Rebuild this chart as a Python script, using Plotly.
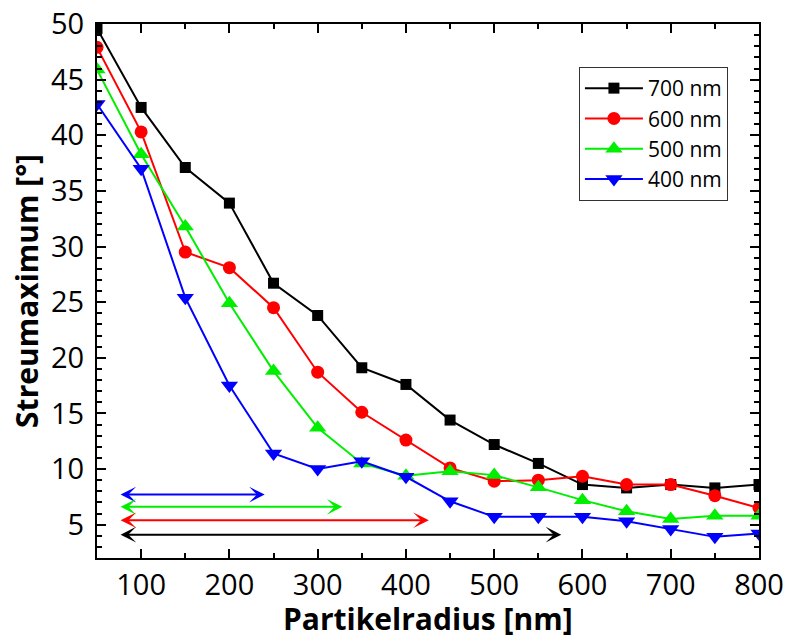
import plotly.graph_objects as go

radius = [50, 100, 150, 200, 250, 300, 350, 400, 450, 500, 550, 600, 650, 700, 750, 800]

s700 = [49.6, 42.5, 37.1, 33.9, 26.7, 23.8, 19.1, 17.6, 14.4, 12.2, 10.5, 8.6, 8.3, 8.6, 8.3, 8.6]
s600 = [47.9, 40.3, 29.5, 28.1, 24.5, 18.7, 15.1, 12.6, 10.1, 8.9, 9.0, 9.35, 8.6, 8.6, 7.6, 6.5]
s500 = [45.9, 38.3, 31.8, 24.9, 18.8, 13.7, 10.5, 9.4, 9.8, 9.45, 8.35, 7.2, 6.2, 5.5, 5.8, 5.8]
s400 = [42.8, 37.0, 25.4, 17.5, 11.4, 10.0, 10.7, 9.3, 7.1, 5.7, 5.7, 5.7, 5.3, 4.6, 3.9, 4.2]

series_names = ["700 nm", "600 nm", "500 nm", "400 nm"]
series_values = [s700, s600, s500, s400]
series_colors = ["#000000", "#ff0000", "#00ee00", "#0000ff"]
series_symbols = ["square", "circle", "triangle-up", "triangle-down"]
series_sizes = [11, 13, 15, 15]

# range arrows (double-headed) per wavelength: y level, start x, end x
arrow_names = ["400 nm", "500 nm", "600 nm", "700 nm"]
arrow_y = [7.7, 6.6, 5.4, 4.1]
arrow_x0 = [75, 75, 75, 75]
arrow_x1 = [240, 328, 426, 576]
arrow_colors = ["#0000ff", "#00ee00", "#ff0000", "#000000"]

x_title = "Partikelradius [nm]"
y_title = "Streumaximum [°]"

FONT = "Open Sans"

fig = go.Figure()
for name, vals, col, sym, sz in zip(series_names, series_values, series_colors,
                                     series_symbols, series_sizes):
    fig.add_trace(go.Scatter(
        x=radius, y=vals, name=name, mode="lines+markers",
        line=dict(color=col, width=2),
        marker=dict(symbol=sym, size=sz, color=col, line=dict(width=0)),
        cliponaxis=True,
    ))

for yv, x0, x1, col in zip(arrow_y, arrow_x0, arrow_x1, arrow_colors):
    fig.add_annotation(
        x=x1, y=yv, ax=x0, ay=yv, xref="x", yref="y", axref="x", ayref="y",
        showarrow=True, arrowhead=3, startarrowhead=3, arrowside="end+start",
        arrowwidth=2, arrowsize=1.3, startarrowsize=1.3, arrowcolor=col, text="",
    )

# x-axis title placed as a paper annotation so it can sit as low as in the reference
fig.add_annotation(
    text="<b>" + x_title + "</b>", xref="paper", yref="paper", x=0.5, y=0,
    xanchor="center", yanchor="middle", yshift=-60, showarrow=False,
    font=dict(family=FONT, size=30, color="black"),
)

axis_common = dict(
    showline=True, linecolor="black", linewidth=2, mirror="ticks",
    ticks="inside", ticklen=9, tickwidth=2, tickcolor="black",
    showgrid=False, zeroline=False, automargin=False,
    ticklabeloverflow="allow",
    tickfont=dict(family=FONT, size=29, color="black"),
)

fig.update_xaxes(
    range=[50, 800], tick0=0, dtick=100,
    minor=dict(dtick=50, ticks="inside", ticklen=5, tickwidth=2, tickcolor="black"),
    ticklabelstandoff=0,
    **axis_common,
)
fig.update_yaxes(
    range=[2, 50], tick0=0, dtick=5,
    minor=dict(dtick=1, ticks="inside", ticklen=5, tickwidth=2, tickcolor="black"),
    title=dict(text="<b>" + y_title + "</b>", font=dict(family=FONT, size=30, color="black"),
               standoff=4),
    ticklabelstandoff=5,
    **axis_common,
)

fig.update_layout(
    width=787, height=639,
    margin=dict(l=97, r=28, t=24, b=81),
    paper_bgcolor="white", plot_bgcolor="white",
    font=dict(family=FONT, color="black"),
    legend=dict(
        x=0.728, y=0.9195, xanchor="left", yanchor="top",
        bgcolor="white", bordercolor="#333333", borderwidth=1,
        font=dict(family=FONT, size=21, color="black"),
        itemwidth=58, tracegroupgap=0,
    ),
)

fig.write_html(
    "out.html",
    config={"displayModeBar": False},
    post_script="document.body.style.margin='0';document.documentElement.style.overflow='hidden';",
)
